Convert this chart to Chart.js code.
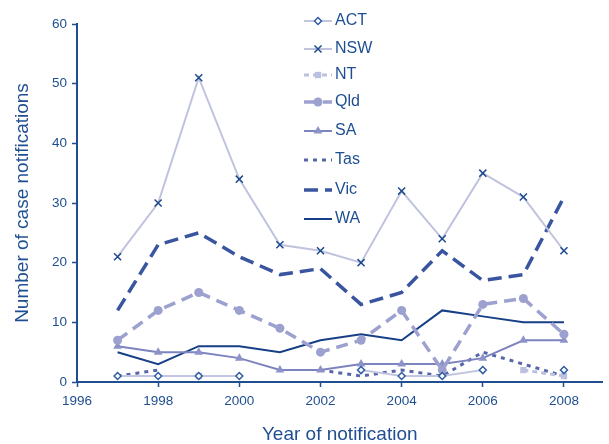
<!DOCTYPE html>
<html>
<head>
<meta charset="utf-8">
<script src="https://cdn.jsdelivr.net/npm/chart.js@4.4.1/dist/chart.umd.min.js"></script>
<style>
  html, body { margin: 0; padding: 0; background: #fff; }
  #wrap { width: 609px; height: 444px; }
</style>
</head>
<body>
<div id="wrap"><canvas id="notifChart" width="609" height="444"></canvas></div>
<script>
// Data
const years = [1997, 1998, 1999, 2000, 2001, 2002, 2003, 2004, 2005, 2006, 2007, 2008];
const act = [1, 1, 1, 1, null, null, 2, 1, 1, 2, null, 2];
const nsw = [21, 30, 51, 34, 23, 22, 20, 32, 24, 35, 31, 22];
const nt = [null, null, 1, null, null, null, null, null, null, null, 2, 1];
const qld = [7, 12, 15, 12, 9, 5, 7, 12, 2, 13, 14, 8];
const sa = [6, 5, 5, 4, 2, 2, 3, 3, 3, 4, 7, 7];
const tas = [1, 2, null, null, null, 2, 1, 2, 1, 5, 3, 1];
const vic = [12, 23, 25, 21, 18, 19, 13, 15, 22, 17, 18, 31];
const wa = [5, 3, 6, 6, 5, 7, 8, 7, 12, 11, 10, 10];
const yTicks = [0, 10, 20, 30, 40, 50, 60];
const xTicks = [1996, 1998, 2000, 2002, 2004, 2006, 2008];

const ink = "#1f4f91";
const font = "'Liberation Sans', Arial, sans-serif";

function pts(values) {
  return years.map((yr, i) => ({ x: yr, y: values[i] }));
}

const datasets = [
  {
    label: "ACT", data: pts(act),
    borderColor: "#c3c6e0", borderWidth: 2,
    pointStyle: "rectRot", pointRadius: 3.5,
    pointBackgroundColor: "#ffffff", pointBorderColor: "#2f5ca3", pointBorderWidth: 1.5,
  },
  {
    label: "NSW", data: pts(nsw),
    borderColor: "#c0c3de", borderWidth: 2,
    pointStyle: "crossRot", pointRadius: 5,
    pointBorderColor: "#1d4a8e", pointBorderWidth: 1.5,
  },
  {
    label: "NT", data: pts(nt),
    borderColor: "#bcc0df", borderWidth: 3, borderDash: [5, 4],
    pointStyle: "rect", pointRadius: 4.5,
    pointBackgroundColor: "#bcc0df", pointBorderColor: "#bcc0df", pointBorderWidth: 0,
  },
  {
    label: "Qld", data: pts(qld),
    borderColor: "#9ca1cf", borderWidth: 3.5, borderDash: [12, 7],
    pointStyle: "circle", pointRadius: 4.5,
    pointBackgroundColor: "#9ca1cf", pointBorderColor: "#9ca1cf", pointBorderWidth: 0,
  },
  {
    label: "SA", data: pts(sa),
    borderColor: "#7c83bf", borderWidth: 2,
    pointStyle: "triangle", pointRadius: 5,
    pointBackgroundColor: "#8d93c8", pointBorderColor: "#8d93c8", pointBorderWidth: 0,
  },
  {
    label: "Tas", data: pts(tas),
    borderColor: "#5666a8", borderWidth: 3, borderDash: [4, 5],
    pointRadius: 0,
  },
  {
    label: "Vic", data: pts(vic),
    borderColor: "#3a55a0", borderWidth: 3.5, borderDash: [14, 7],
    pointRadius: 0,
  },
  {
    label: "WA", data: pts(wa),
    borderColor: "#173f87", borderWidth: 2,
    pointRadius: 0,
  },
];

// Legend drawn inside the plot, as in the original figure
const sideLegend = {
  id: "sideLegend",
  afterDraw(chart) {
    const ctx = chart.ctx;
    const rows = [21, 49, 75, 102, 131, 160, 190, 219];
    chart.data.datasets.forEach((ds, i) => {
      const y = rows[i];
      ctx.save();
      ctx.strokeStyle = ds.borderColor;
      ctx.lineWidth = ds.borderWidth;
      ctx.setLineDash(ds.borderDash || []);
      ctx.beginPath();
      ctx.moveTo(304, y);
      ctx.lineTo(332, y);
      ctx.stroke();
      ctx.setLineDash([]);
      if (ds.pointRadius > 0) {
        ctx.fillStyle = ds.pointBackgroundColor || ds.pointBorderColor;
        ctx.strokeStyle = ds.pointBorderColor;
        ctx.lineWidth = ds.pointBorderWidth;
        Chart.helpers.drawPoint(ctx, {
          pointStyle: ds.pointStyle,
          radius: ds.pointRadius,
          rotation: 0,
          borderWidth: ds.pointBorderWidth,
        }, 318, y);
      }
      ctx.fillStyle = ink;
      ctx.font = "16px " + font;
      ctx.textBaseline = "middle";
      ctx.textAlign = "left";
      ctx.fillText(ds.label, 335, y);
      ctx.restore();
    });
  },
};

new Chart(document.getElementById("notifChart"), {
  type: "line",
  data: { datasets },
  plugins: [sideLegend],
  options: {
    responsive: false,
    animation: false,
    layout: { padding: { top: 24, right: 0, left: 0, bottom: 0 } },
    plugins: { legend: { display: false }, tooltip: { enabled: false } },
    elements: { line: { tension: 0 } },
    scales: {
      x: {
        type: "linear",
        min: 1996,
        max: 2008.95,
        afterBuildTicks: (scale) => {
          scale.ticks = xTicks.map((v) => ({ value: v }));
        },
        afterFit: (scale) => { scale.height = 62; },
        border: { color: ink, width: 2 },
        grid: { display: true, drawOnChartArea: false, color: ink, tickLength: 5, tickWidth: 1.5 },
        ticks: {
          color: ink, font: { family: font, size: 13.5 }, padding: 6, maxRotation: 0,
          callback: (v) => String(v),
        },
        title: {
          display: true, text: "Year of notification", color: ink,
          font: { family: font, size: 19, lineHeight: 1 }, padding: { top: 4, bottom: 0 },
        },
      },
      y: {
        min: 0,
        max: 60,
        afterBuildTicks: (scale) => {
          scale.ticks = yTicks.map((v) => ({ value: v }));
        },
        afterFit: (scale) => { scale.width = 77; },
        border: { color: ink, width: 2 },
        grid: { display: true, drawOnChartArea: false, color: ink, tickLength: 5, tickWidth: 1.5 },
        ticks: {
          color: ink, font: { family: font, size: 13.5 }, padding: 5,
          callback: (v) => String(v),
        },
        title: {
          display: true, text: "Number of case notifications", color: ink,
          font: { family: font, size: 19 }, padding: { top: 11, bottom: 0 },
        },
      },
    },
  },
});
</script>
</body>
</html>
